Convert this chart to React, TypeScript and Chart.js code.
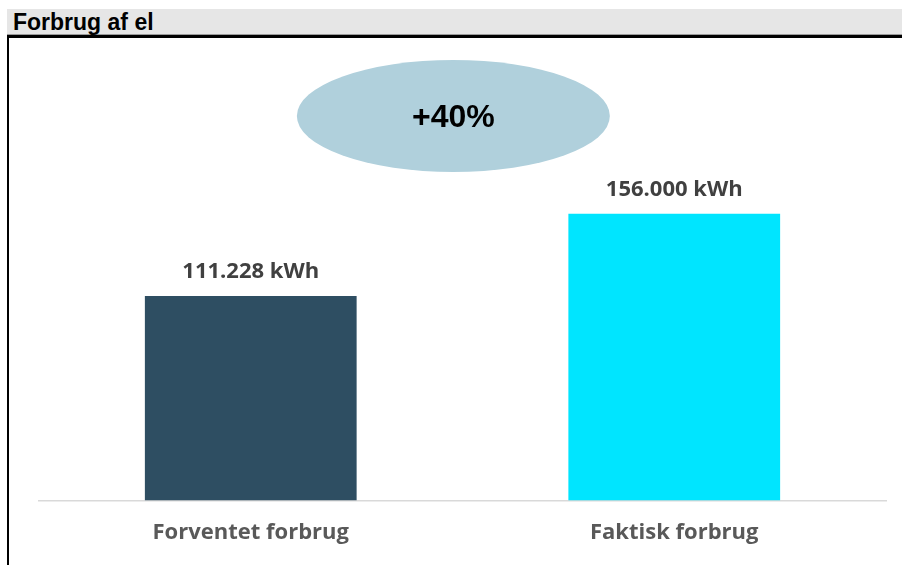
import React, { useEffect, useRef } from "react";
import { Chart, registerables } from "chart.js";

Chart.register(...registerables);

const title = "Forbrug af el";
const categories = ["Forventet forbrug", "Faktisk forbrug"];
const values = [111228, 156000];
const barColors = ["#2E4E62", "#00E5FF"];
const unit = "kWh";

function formatDa(n: number): string {
  const s = Math.round(n).toString();
  return s.replace(/\B(?=(\d{3})+(?!\d))/g, ".");
}

const overlayPlugin = {
  id: "overlay",
  afterDatasetsDraw(chart: any) {
    const ctx = chart.ctx;
    const meta = chart.getDatasetMeta(0);
    ctx.save();
    // value labels
    ctx.font = "bold 22px 'Open Sans'";
    ctx.fillStyle = "#404040";
    ctx.textAlign = "center";
    ctx.textBaseline = "alphabetic";
    meta.data.forEach((bar: any, i: number) => {
      ctx.fillText(`${formatDa(values[i])} ${unit}`, bar.x, bar.y - 18);
    });
    // ellipse with percent change
    const area = chart.chartArea;
    const cx = area.left + area.width * 0.4892;
    const cy = 116;
    ctx.beginPath();
    ctx.ellipse(cx, cy, 156.5, 56, 0, 0, Math.PI * 2);
    ctx.fillStyle = "#B0D0DC";
    ctx.fill();
    const pct = Math.round((values[1] / values[0] - 1) * 100);
    ctx.fillStyle = "#000000";
    ctx.font = "bold 32px 'Liberation Sans', Arial";
    ctx.textBaseline = "middle";
    ctx.fillText(`${pct >= 0 ? "+" : ""}${pct}%`, cx, cy + 2);
    ctx.restore();
  },
};

export default function App() {
  const ref = useRef<HTMLCanvasElement | null>(null);
  useEffect(() => {
    if (!ref.current) return;
    const chart = new Chart(ref.current, {
      type: "bar",
      data: {
        labels: categories,
        datasets: [
          {
            data: values,
            backgroundColor: barColors,
            borderWidth: 0,
            categoryPercentage: 1,
            barPercentage: 0.5,
          },
        ],
      },
      options: {
        animation: false,
        responsive: false,
        maintainAspectRatio: false,
        layout: { padding: { top: 41, left: 39, right: 16, bottom: 0 } },
        plugins: {
          legend: { display: false },
          tooltip: { enabled: false },
        },
        scales: {
          x: {
            grid: { display: false, drawTicks: false },
            border: { display: true, color: "#D9D9D9", width: 1.5 },
            ticks: {
              color: "#595959",
              font: { family: "'Open Sans'", size: 22, weight: "bold" },
              padding: 19,
            },
          },
          y: {
            display: false,
            min: 0,
            max: 250000,
          },
        },
      },
      plugins: [overlayPlugin],
    });
    return () => chart.destroy();
  }, []);

  return (
    <div style={{ position: "absolute", left: 0, top: 0, width: 902, height: 565, background: "#fff", overflow: "hidden" }}>
      <div
        style={{
          position: "absolute",
          left: 7,
          top: 9,
          width: 895,
          height: 26,
          background: "#E6E6E6",
          borderBottom: "1px solid #9A9A9A",
          boxSizing: "border-box",
          fontFamily: "'Liberation Sans', Arial, sans-serif",
          fontWeight: "bold",
          fontSize: 23,
          lineHeight: "26px",
          paddingLeft: 6,
          color: "#000",
        }}
      >
        {title}
      </div>
      <div style={{ position: "absolute", left: 7, top: 35, width: 895, height: 2.5, background: "#000" }} />
      <div style={{ position: "absolute", left: 7, top: 36, width: 2, height: 529, background: "#000" }} />
      <canvas ref={ref} width={902} height={565} style={{ position: "absolute", left: 0, top: 0, width: 902, height: 565 }} />
    </div>
  );
}
